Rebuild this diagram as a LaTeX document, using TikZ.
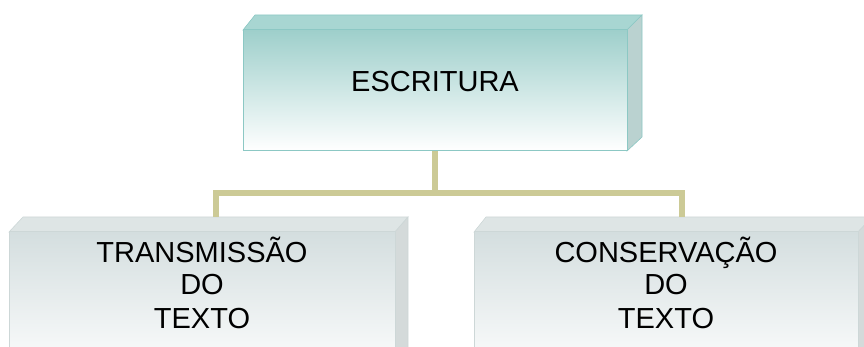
\documentclass[tikz,border=0pt]{standalone}
\usepackage{fontspec}
\setmainfont{Liberation Sans}
\begin{document}
\begin{tikzpicture}[x=1pt,y=1pt]
\definecolor{tealtop}{RGB}{158,207,203}
\definecolor{tealface}{RGB}{168,214,210}
\definecolor{tealside}{RGB}{186,210,208}
\definecolor{tealline}{RGB}{140,200,196}
\definecolor{greytop}{RGB}{212,222,223}
\definecolor{greyface}{RGB}{222,229,229}
\definecolor{greyside}{RGB}{212,218,218}
\definecolor{greyline}{RGB}{205,215,215}
\definecolor{connc}{RGB}{204,202,150}
\tikzset{
  frontbox/.style={rectangle, inner sep=0pt, line width=1pt},
  label/.style={font=\fontsize{29}{34}\selectfont, anchor=base, inner sep=0pt},
  conn/.style={draw=connc, line width=6pt},
}
\useasboundingbox (0,0) rectangle (864,-347);
\clip (0,0) rectangle (864,-347);
% top box
\fill[tealface, draw=tealline, line width=0.6pt] (243,-30) -- (255,-15) -- (642,-15) -- (627,-30) -- cycle;
\fill[tealside, draw=tealline, line width=0.6pt] (627,-30) -- (642,-15) -- (642,-137) -- (627,-151) -- cycle;
\node[frontbox, draw=tealline, top color=tealtop, bottom color=white,
      minimum width=384pt, minimum height=121pt] (top) at (435,-90.5) {};
\node[label] (tlab) at (435,-92) {ESCRITURA};
% left box
\fill[greyface, draw=greyline, line width=0.6pt] (9,-232) -- (23,-217) -- (408,-217) -- (395,-232) -- cycle;
\fill[greyside, draw=greyline, line width=0.6pt] (395,-232) -- (408,-217) -- (408,-360) -- (395,-360) -- cycle;
\node[frontbox, draw=greyline, top color=greytop, bottom color=white,
      minimum width=386pt, minimum height=148pt] (left) at (202,-306) {};
\node[label] (l1) at (202,-262) {TRANSMISSÃO};
\node[label] (l2) at (202,-294.5) {DO};
\node[label] (l3) at (202,-328) {TEXTO};
% right box
\fill[greyface, draw=greyline, line width=0.6pt] (474,-232) -- (486,-217) -- (872,-217) -- (858,-232) -- cycle;
\fill[greyside, draw=greyline, line width=0.6pt] (858,-232) -- (872,-217) -- (872,-360) -- (858,-360) -- cycle;
\node[frontbox, draw=greyline, top color=greytop, bottom color=white,
      minimum width=384pt, minimum height=148pt] (right) at (666,-306) {};
\node[label] (r1) at (666,-262) {CONSERVAÇÃO};
\node[label] (r2) at (666,-294.5) {DO};
\node[label] (r3) at (666,-328) {TEXTO};
% connectors
\coordinate (hub) at (435,-193.5);
\coordinate (lend) at (216,-217);
\coordinate (rend) at (682,-217);
\draw[conn] (top.south) -- (hub);
\draw[conn] (hub) -| (lend);
\draw[conn] (hub) -| (rend);
\end{tikzpicture}
\end{document}
